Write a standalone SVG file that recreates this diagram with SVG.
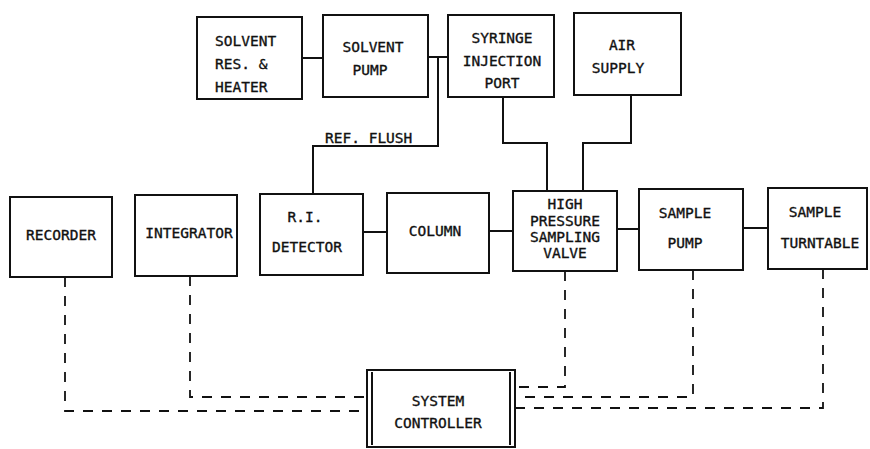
<svg xmlns="http://www.w3.org/2000/svg" width="870" height="449" viewBox="0 0 870 449">
<style>
.box{fill:#fff;stroke:#111;stroke-width:2}
.ln{fill:none;stroke:#111;stroke-width:2}
.dash{fill:none;stroke:#111;stroke-width:1.8;stroke-dasharray:10 9}
text{font-family:"DejaVu Sans Mono","Liberation Mono",monospace;font-size:14.5px;fill:#111;stroke:#111;stroke-width:0.35}
.c{text-anchor:middle}
</style>
<rect width="870" height="449" fill="#fff"/>
<g id="connectors">
<path class="ln" d="M302 58 H323"/>
<path class="ln" d="M428 57 H448"/>
<path class="ln" d="M438 57 V146 H313 V194"/>
<path class="ln" d="M503 97 V143 H547 V191"/>
<path class="ln" d="M631 95 V143 H583 V191"/>
<path class="ln" d="M363 232 H387"/>
<path class="ln" d="M489 231 H513"/>
<path class="ln" d="M617 229 H639"/>
<path class="ln" d="M743 228 H768"/>
<path class="dash" d="M65 277 V411 H367"/>
<path class="dash" d="M190 276 V397 H367"/>
<path class="dash" d="M565 271 V387 H515"/>
<path class="dash" d="M693 270 V397 H515"/>
<path class="dash" d="M823 269 V408 H515"/>
<text x="325" y="143">REF. FLUSH</text>
</g>
<g id="solvent-res">
<rect class="box" x="197" y="17" width="105" height="82"/>
<text x="215" y="46">SOLVENT</text>
<text x="215" y="69">RES. &amp;</text>
<text x="215" y="92">HEATER</text>
</g>
<g id="solvent-pump">
<rect class="box" x="323" y="15" width="105" height="82"/>
<text class="c" x="373" y="52">SOLVENT</text>
<text class="c" x="370" y="75">PUMP</text>
</g>
<g id="syringe">
<rect class="box" x="448" y="15" width="106" height="82"/>
<text class="c" x="502" y="43">SYRINGE</text>
<text class="c" x="502" y="66">INJECTION</text>
<text class="c" x="502" y="88">PORT</text>
</g>
<g id="air-supply">
<rect class="box" x="574" y="13" width="107" height="82"/>
<text class="c" x="622" y="50">AIR</text>
<text class="c" x="618" y="73">SUPPLY</text>
</g>
<g id="recorder">
<rect class="box" x="10" y="197" width="102" height="80"/>
<text class="c" x="61" y="240">RECORDER</text>
</g>
<g id="integrator">
<rect class="box" x="135" y="195" width="102" height="81"/>
<text class="c" x="189" y="238">INTEGRATOR</text>
</g>
<g id="ri-detector">
<rect class="box" x="260" y="194" width="103" height="81"/>
<text class="c" x="305" y="222">R.I.</text>
<text class="c" x="307" y="252">DETECTOR</text>
</g>
<g id="column">
<rect class="box" x="387" y="193" width="102" height="80"/>
<text class="c" x="435" y="236">COLUMN</text>
</g>
<g id="valve">
<rect class="box" x="513" y="191" width="104" height="80"/>
<text class="c" x="565" y="209">HIGH</text>
<text class="c" x="565" y="226">PRESSURE</text>
<text class="c" x="565" y="242">SAMPLING</text>
<text class="c" x="565" y="258">VALVE</text>
</g>
<g id="sample-pump">
<rect class="box" x="639" y="189" width="104" height="81"/>
<text class="c" x="685" y="218">SAMPLE</text>
<text class="c" x="685" y="248">PUMP</text>
</g>
<g id="turntable">
<rect class="box" x="768" y="188" width="99" height="81"/>
<text class="c" x="815" y="217">SAMPLE</text>
<text class="c" x="820" y="248">TURNTABLE</text>
</g>
<g id="controller">
<rect class="box" x="367" y="370" width="148" height="77"/>
<path class="ln" d="M372 372 V445 M510 372 V445"/>
<text class="c" x="438" y="406">SYSTEM</text>
<text class="c" x="438" y="428">CONTROLLER</text>
</g>
</svg>
